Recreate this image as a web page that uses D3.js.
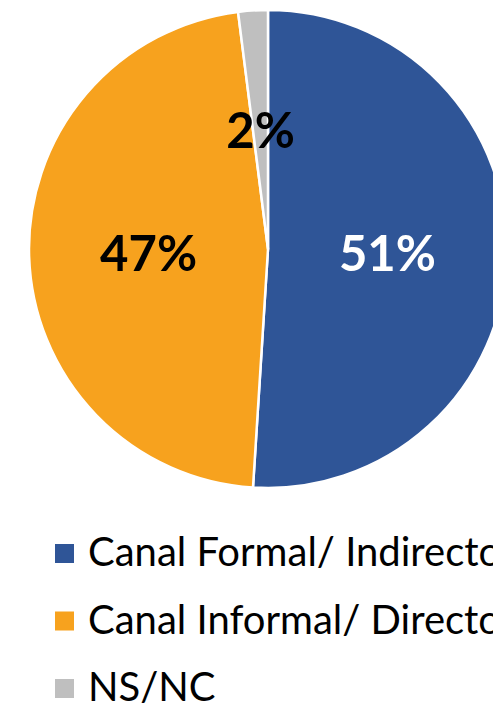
<!DOCTYPE html>
<html>
<head>
<meta charset="utf-8">
<script src="https://cdn.jsdelivr.net/npm/d3@7"></script>
<style>
  body { margin: 0; background: #fff; overflow: hidden; }
  svg { display: block; font-family: Lato, "Open Sans", sans-serif; }
</style>
</head>
<body>
<svg class="chart"></svg>
<script>
var width = 493,
    height = 705;

var categories = ["Canal Formal/ Indirecto", "Canal Informal/ Directo", "NS/NC"];
var values = [51, 47, 2];
var labels = ["51%", "47%", "2%"];
var colors = ["#2F5597", "#F7A21E", "#BFBFBF"];
var labelColors = ["#fff", "#000", "#000"];

var cx = 268, cy = 249, radius = 239;

var chart = d3.select(".chart")
    .attr("width", width)
    .attr("height", height);

var pie = d3.pie().sort(null).value(function(d) { return d; });
var arc = d3.arc().innerRadius(0).outerRadius(radius);

var slices = pie(values);

var g = chart.append("g")
    .attr("transform", "translate(" + cx + "," + cy + ")");

g.selectAll("path")
    .data(slices)
  .enter().append("path")
    .attr("d", arc)
    .attr("fill", function(d, i) { return colors[i]; })
    .attr("stroke", "#fff")
    .attr("stroke-width", 2.5)
    .attr("stroke-linejoin", "round");

g.selectAll("text")
    .data(slices)
  .enter().append("text")
    .attr("transform", function(d) {
      var c = arc.centroid(d);
      return "translate(" + c[0] + "," + c[1] + ")";
    })
    .attr("text-anchor", "middle")
    .attr("dy", "0.37em")
    .attr("font-size", 49)
    .attr("font-weight", "bold")
    .attr("fill", function(d, i) { return labelColors[i]; })
    .text(function(d, i) { return labels[i]; });

// legend
var legend = chart.selectAll(".legend")
    .data(categories)
  .enter().append("g")
    .attr("class", "legend")
    .attr("transform", function(d, i) { return "translate(55," + (544 + i * 67.5) + ")"; });

legend.append("rect")
    .attr("width", 19)
    .attr("height", 19)
    .attr("fill", function(d, i) { return colors[i]; });

legend.append("text")
    .attr("x", 33)
    .attr("y", 22)
    .attr("font-size", 40)
    .attr("fill", "#000")
    .text(function(d) { return d; });
</script>
</body>
</html>
